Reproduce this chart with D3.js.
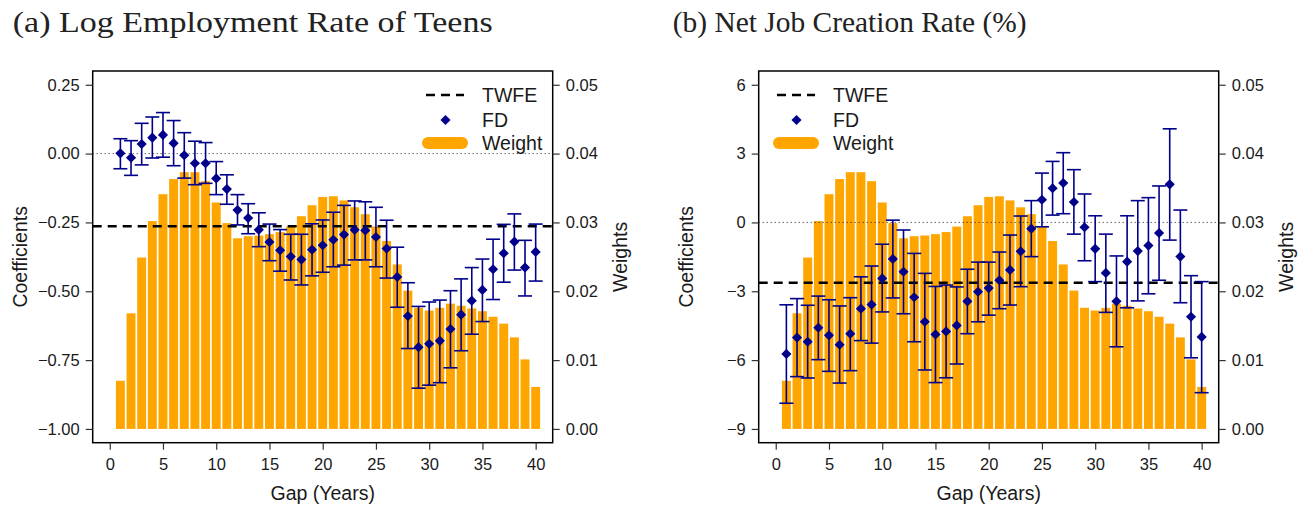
<!DOCTYPE html>
<html lang="en">
<head>
<meta charset="UTF-8">
<title>FD vs TWFE by gap</title>
<script src="https://cdn.jsdelivr.net/npm/d3@7"></script>
<style>
    body { margin: 0; background: #fff; }
    text { font-family: "Liberation Sans", Arial, Helvetica, sans-serif; fill: #1a1a1a; }
    .title { font-family: "Liberation Serif", "Times New Roman", serif; fill: #222; }
</style>
</head>
<body>
<svg id="chart" width="1298" height="505"></svg>
<script>
// gap in years, 1..40
const gaps = d3.range(1, 41);

// weight of each gap (same in both panels)
const weights = [0.0070, 0.0168, 0.0249, 0.0302, 0.0341, 0.0363, 0.0373, 0.0373, 0.0360, 0.0329,
    0.0299, 0.0277, 0.0280, 0.0281, 0.0283, 0.0286, 0.0294, 0.0309, 0.0325, 0.0337,
    0.0338, 0.0332, 0.0322, 0.0312, 0.0294, 0.0273, 0.0239, 0.0201, 0.0176, 0.0172,
    0.0176, 0.0182, 0.0179, 0.0175, 0.0171, 0.0163, 0.0153, 0.0133, 0.0101, 0.0061];

// (a) log employment rate of teens
const teensFD = [0.001, -0.015, 0.035, 0.058, 0.068, 0.038, -0.006, -0.035, -0.035, -0.090,
    -0.129, -0.205, -0.234, -0.277, -0.321, -0.351, -0.374, -0.385, -0.349, -0.333,
    -0.313, -0.294, -0.277, -0.279, -0.303, -0.345, -0.448, -0.590, -0.703, -0.691,
    -0.680, -0.637, -0.585, -0.534, -0.495, -0.420, -0.362, -0.320, -0.414, -0.357];
const teensHi = [0.054, 0.047, 0.110, 0.133, 0.149, 0.120, 0.076, 0.045, 0.040, -0.029,
    -0.077, -0.149, -0.182, -0.215, -0.256, -0.276, -0.293, -0.293, -0.255, -0.241,
    -0.213, -0.188, -0.172, -0.175, -0.195, -0.242, -0.340, -0.469, -0.555, -0.539,
    -0.532, -0.498, -0.455, -0.414, -0.383, -0.311, -0.257, -0.219, -0.315, -0.256];
const teensLo = [-0.055, -0.079, -0.041, -0.016, -0.013, -0.044, -0.089, -0.113, -0.108, -0.149,
    -0.184, -0.259, -0.291, -0.338, -0.389, -0.427, -0.459, -0.477, -0.444, -0.431,
    -0.411, -0.405, -0.386, -0.386, -0.411, -0.452, -0.558, -0.708, -0.852, -0.841,
    -0.832, -0.778, -0.716, -0.656, -0.610, -0.530, -0.467, -0.423, -0.517, -0.463];
const teensTWFE = -0.264;

// (b) net job creation rate (%)
const jobsFD = [-5.73, -5.02, -5.20, -4.59, -4.92, -5.33, -4.85, -3.76, -3.58, -2.44,
    -1.59, -2.15, -3.26, -4.33, -4.88, -4.75, -4.49, -3.44, -3.02, -2.86,
    -2.52, -2.07, -1.26, -0.27, 0.99, 1.49, 1.72, 0.89, -0.21, -1.15,
    -2.20, -3.44, -1.71, -1.25, -1.01, -0.46, 1.66, -1.49, -4.11, -4.99];
const jobsHi = [-3.59, -3.32, -3.61, -3.21, -3.37, -3.64, -3.28, -2.37, -1.90, -0.95,
    0.10, -0.33, -1.35, -2.22, -2.79, -2.73, -2.81, -2.04, -1.73, -1.73,
    -1.29, -0.55, 0.28, 0.95, 2.15, 2.66, 3.04, 2.30, 1.24, 0.29,
    -0.51, -1.46, 0.29, 0.95, 1.08, 1.59, 4.08, 0.54, -2.32, -2.58];
const jobsLo = [-7.88, -6.72, -6.78, -5.98, -6.49, -7.00, -6.46, -5.15, -5.26, -3.90,
    -3.29, -3.98, -5.20, -6.43, -6.98, -6.77, -6.17, -4.85, -4.33, -4.04,
    -3.76, -3.60, -2.80, -1.49, -0.19, 0.32, 0.38, -0.51, -1.67, -2.58,
    -3.92, -5.42, -3.72, -3.42, -3.11, -2.52, -0.77, -3.50, -5.90, -7.42];
const jobsTWFE = -2.63;

// tick labels
const xTicks = [0, 5, 10, 15, 20, 25, 30, 35, 40];
const weightTicks = [0, 0.01, 0.02, 0.03, 0.04, 0.05];
const teensTicks = [-1.00, -0.75, -0.50, -0.25, 0.00, 0.25];
const jobsTicks = [-9, -6, -3, 0, 3, 6];

const panels = [
    { title: "(a) Log Employment Rate of Teens", titleW: 480, titleX: 12.7, left: 92.7,
      fd: teensFD, lo: teensLo, hi: teensHi, twfe: teensTWFE,
      yDomain: [-1.05, 0.30], yTicks: teensTicks, fmt: d3.format(".2f"), legendX: 426 },
    { title: "(b) Net Job Creation Rate (%)", titleW: 354, titleX: 672.7, left: 758.7,
      fd: jobsFD, lo: jobsLo, hi: jobsHi, twfe: jobsTWFE,
      yDomain: [-9.6, 6.6], yTicks: jobsTicks, fmt: d3.format("d"), legendX: 777 }
];

const boxW = 460, plotTop = 71, plotBottom = 442.7;
const navy = "#00008B", orange = "#FFA500";
const svg = d3.select("#chart");

panels.forEach(p => {
    const right = p.left + boxW;
    const x = d3.scaleLinear().domain([-1.6, 41.6]).range([p.left, right]);
    const y = d3.scaleLinear().domain(p.yDomain).range([plotBottom, plotTop]);
    const yw = d3.scaleLinear().domain([-0.002, 0.052]).range([plotBottom, plotTop]);
    const g = svg.append("g");
    const bw = x(0.84) - x(0);

    svg.append("text").attr("class", "title")
        .attr("x", p.titleX).attr("y", 32)
        .attr("font-size", 29.5)
        .attr("textLength", p.titleW).attr("lengthAdjust", "spacingAndGlyphs")
        .text(p.title);

    // weight bars
    g.selectAll("rect.bar").data(gaps).join("rect")
        .attr("class", "bar")
        .attr("x", d => x(d) - bw / 2)
        .attr("width", bw)
        .attr("y", (d, i) => yw(weights[i]))
        .attr("height", (d, i) => yw(0) - yw(weights[i]))
        .attr("fill", orange);

    // zero line and TWFE
    g.append("line").attr("x1", p.left).attr("x2", right)
        .attr("y1", y(0)).attr("y2", y(0))
        .attr("stroke", "#222").attr("stroke-width", 1).attr("stroke-dasharray", "1,3");
    g.append("line").attr("x1", p.left).attr("x2", right)
        .attr("y1", y(p.twfe)).attr("y2", y(p.twfe))
        .attr("stroke", "#000").attr("stroke-width", 2.4).attr("stroke-dasharray", "9,6");

    // error bars
    const eb = g.selectAll("g.eb").data(gaps).join("g").attr("class", "eb")
        .attr("stroke", navy).attr("stroke-width", 1.6);
    eb.append("line").attr("x1", d => x(d)).attr("x2", d => x(d))
        .attr("y1", (d, i) => y(p.lo[i])).attr("y2", (d, i) => y(p.hi[i]));
    eb.append("line").attr("x1", d => x(d) - 7).attr("x2", d => x(d) + 7)
        .attr("y1", (d, i) => y(p.lo[i])).attr("y2", (d, i) => y(p.lo[i]));
    eb.append("line").attr("x1", d => x(d) - 7).attr("x2", d => x(d) + 7)
        .attr("y1", (d, i) => y(p.hi[i])).attr("y2", (d, i) => y(p.hi[i]));

    const diamond = d3.symbol(d3.symbolDiamond2, 66);
    g.selectAll("path.fd").data(gaps).join("path").attr("class", "fd")
        .attr("d", diamond)
        .attr("transform", (d, i) => `translate(${x(d)},${y(p.fd[i])})`)
        .attr("fill", navy);

    // box
    g.append("rect").attr("x", p.left).attr("y", plotTop)
        .attr("width", boxW).attr("height", plotBottom - plotTop)
        .attr("fill", "none").attr("stroke", "#000").attr("stroke-width", 1.5);

    // axes
    const styleAxis = a => {
        a.select(".domain").remove();
        a.selectAll(".tick line").attr("stroke", "#333").attr("stroke-width", 1.2);
        a.selectAll(".tick text").attr("font-size", 16.5).attr("fill", "#1a1a1a")
            .attr("font-family", "Liberation Sans, Arial, sans-serif");
    };
    svg.append("g").attr("transform", `translate(0,${plotBottom})`)
        .call(d3.axisBottom(x).tickValues(xTicks).tickSize(7).tickPadding(9))
        .call(styleAxis);
    svg.append("g").attr("transform", `translate(${p.left},0)`)
        .call(d3.axisLeft(y).tickValues(p.yTicks).tickFormat(p.fmt).tickSize(7).tickPadding(6))
        .call(styleAxis);
    svg.append("g").attr("transform", `translate(${right},0)`)
        .call(d3.axisRight(yw).tickValues(weightTicks).tickFormat(d3.format(".2f")).tickSize(7).tickPadding(6))
        .call(styleAxis);

    svg.append("text").attr("x", (p.left + right) / 2).attr("y", 500)
        .attr("text-anchor", "middle").attr("font-size", 19.5).text("Gap (Years)");
    svg.append("text").attr("transform", `translate(${p.left - 66},${(plotTop + plotBottom) / 2}) rotate(-90)`)
        .attr("text-anchor", "middle").attr("font-size", 19.5).text("Coefficients");
    svg.append("text").attr("transform", `translate(${right + 74},${(plotTop + plotBottom) / 2}) rotate(-90)`)
        .attr("text-anchor", "middle").attr("font-size", 19.5).text("Weights");

    // legend
    const lg = svg.append("g").attr("transform", `translate(${p.legendX},${plotTop})`);
    lg.append("line").attr("x1", 0).attr("x2", 38).attr("y1", 24).attr("y2", 24)
        .attr("stroke", "#000").attr("stroke-width", 2.4).attr("stroke-dasharray", "9,6");
    lg.append("path").attr("d", diamond).attr("transform", "translate(19.5,49)").attr("fill", navy);
    lg.append("line").attr("x1", 2).attr("x2", 36).attr("y1", 72).attr("y2", 72)
        .attr("stroke", orange).attr("stroke-width", 12).attr("stroke-linecap", "round");
    lg.selectAll("text").data(["TWFE", "FD", "Weight"]).join("text")
        .attr("x", 56).attr("y", (d, i) => [24, 49, 72][i])
        .attr("dy", "0.36em").attr("font-size", 19.5).text(d => d);
});
</script>
</body>
</html>
